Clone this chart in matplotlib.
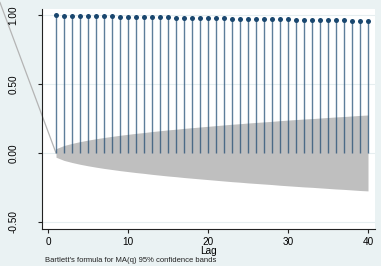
import numpy as np
import matplotlib
matplotlib.use('Agg')
import matplotlib.pyplot as plt

# autocorrelations, lags 1..40
lags = np.arange(1, 41)
acf = [0.996, 0.995, 0.994, 0.993, 0.992, 0.991, 0.990, 0.989, 0.988, 0.987,
       0.986, 0.985, 0.984, 0.983, 0.982, 0.981, 0.980, 0.979, 0.978, 0.977,
       0.976, 0.975, 0.974, 0.973, 0.972, 0.971, 0.970, 0.969, 0.968, 0.967,
       0.966, 0.965, 0.964, 0.963, 0.962, 0.961, 0.960, 0.959, 0.958, 0.957]

# Bartlett 95% band half-width per lag
band = [0.031, 0.054, 0.069, 0.082, 0.093, 0.103, 0.112, 0.120, 0.128, 0.135,
        0.142, 0.148, 0.155, 0.161, 0.167, 0.172, 0.178, 0.183, 0.188, 0.193,
        0.198, 0.203, 0.208, 0.212, 0.217, 0.221, 0.225, 0.229, 0.234, 0.238,
        0.242, 0.246, 0.249, 0.253, 0.257, 0.261, 0.264, 0.268, 0.272, 0.275]

# stray band edge drawn outside the plot region
stray_x = [-6, 1]
stray_y = [1.09, 0.0]

xticks = [0, 10, 20, 30, 40]
yticks = [-0.5, 0.0, 0.5, 1.0]
ylabels = ['-0.50', '0.00', '0.50', '1.00']

plt.rcParams['font.family'] = ['Liberation Sans', 'DejaVu Sans']

bg = '#eaf2f3'
navy = '#1a476f'

fig = plt.figure(figsize=(3.81, 2.66), dpi=100, facecolor=bg)
W, H = 381, 266
ax = fig.add_axes([42/W, 1 - 229/H, (375 - 42)/W, (229 - 9)/H])
ax.set_facecolor('white')

ax.set_xlim(-0.75, 40.875)
ax.set_ylim(-0.551, 1.043)

for y in yticks:
    ax.axhline(y, color='#e6eef0', lw=0.8, zorder=0)

band = np.array(band)
ax.fill_between(lags, -band, band, color='#bfbfbf', lw=0, zorder=1)
ax.plot(stray_x, stray_y, color='#b4b4b4', lw=0.9, clip_on=False, zorder=1)

ax.vlines(lags, 0, acf, color=navy, lw=1.0, alpha=0.7, zorder=2)
ax.plot(lags, acf, 'o', color=navy, markersize=3.6, markeredgewidth=0, zorder=3)

for s in ['top', 'right']:
    ax.spines[s].set_visible(False)
for s in ['left', 'bottom']:
    ax.spines[s].set_color('#222222')
    ax.spines[s].set_linewidth(0.8)

ax.set_xticks(xticks)
ax.set_xticklabels([str(t) for t in xticks], fontsize=7.2)
ax.set_yticks(yticks)
ax.set_yticklabels(ylabels, fontsize=7.2, rotation=90, va='center')
ax.tick_params(direction='out', length=3, width=0.8, color='#222222', pad=2.5)
ax.tick_params(axis='y', pad=14)

ax.set_xlabel('Lag', fontsize=7.2, labelpad=-0.5)

fig.text(45/W, 1 - 261/H, "Bartlett's formula for MA(q) 95% confidence bands",
         fontsize=5.5, va='center', ha='left', color='#222222')

fig.savefig('out.png', dpi=100, facecolor=bg)
